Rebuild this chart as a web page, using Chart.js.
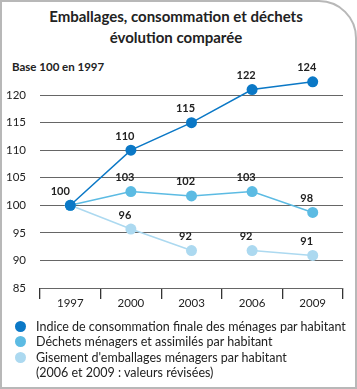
<!DOCTYPE html>
<html><head><meta charset="utf-8">
<script src="https://cdn.jsdelivr.net/npm/chart.js@4.4.1/dist/chart.umd.min.js"></script>
<style>
html,body{margin:0;padding:0;background:#fff;}
#frame{position:absolute;left:0;top:0;width:353px;height:385px;border:2px solid #b8b8b8;border-top-right-radius:38px;}
#t{position:absolute;left:0;top:6px;width:352px;text-align:center;font-family:Lato,"Open Sans",sans-serif;font-weight:bold;font-size:15px;line-height:21px;color:#222;}
#sub{position:absolute;left:12px;top:60px;font-family:Lato,sans-serif;font-weight:bold;font-size:11.5px;color:#222;}
#c{position:absolute;left:0;top:0;}
#leg{position:absolute;left:14px;top:319px;font-family:Lato,"Open Sans",sans-serif;font-size:12.5px;line-height:15.3px;color:#222;}
.row{position:relative;padding-left:22px;}
.dot{position:absolute;left:1px;top:2px;width:11px;height:11px;border-radius:50%;}
</style></head>
<body>
<div id="frame"></div>
<div id="t">Emballages, consommation et déchets<br>évolution comparée</div>
<div id="sub">Base 100 en 1997</div>
<canvas id="c" width="357" height="320"></canvas>
<div id="leg"></div>
<script>
const categories = ["1997","2000","2003","2006","2009"];
const consommation = [100, 110, 115, 121, 122.4];
const consommationLabels = ["100","110","115","122","124"];
const dechets = [100, 102.5, 101.7, 102.5, 98.7];
const dechetsLabels = [null,"103","102","103","98"];
const gisement = [100, 95.7, 91.8, 91.8, 90.9];
const gisementLabels = [null,"96","92","92","91"];
const yTicks = [85,90,95,100,105,110,115,120];
const seriesNames = ["Indice de consommation finale des ménages par habitant","Déchets ménagers et assimilés par habitant","Gisement d'emballages ménagers par habitant","(2006 et 2009 : valeurs révisées)"];
const colors = ["#0b78c6","#5cbbe3","#acd9f0"];

const labelPlugin = {
  id:'vals',
  afterDatasetsDraw(chart){
    const ctx = chart.ctx;
    ctx.save();
    ctx.font = 'bold 11px Lato, sans-serif';
    ctx.fillStyle = '#222';
    ctx.textAlign = 'center';
    ctx.textBaseline = 'middle';
    chart.data.datasets.forEach((ds,i)=>{
      const meta = chart.getDatasetMeta(i);
      meta.data.forEach((pt,j)=>{
        const t = ds.valueLabels[j];
        if(!t) return;
        const dx = j===0 ? -10 : -6;
        ctx.fillText(t, pt.x+dx, pt.y-14);
      });
    });
    ctx.restore();
  }
};

const chart = new Chart(document.getElementById('c'),{
  type:'line',
  data:{
    labels:categories,
    datasets:[
      {label:seriesNames[0],data:consommation,valueLabels:consommationLabels,borderColor:colors[0],backgroundColor:colors[0],pointBackgroundColor:colors[0],borderWidth:1.5,pointRadius:5.5,pointBorderWidth:0,order:0},
      {label:seriesNames[1],data:dechets,valueLabels:dechetsLabels,borderColor:colors[1],backgroundColor:colors[1],pointBackgroundColor:colors[1],borderWidth:1.5,pointRadius:5.5,pointBorderWidth:0,order:1},
      {label:seriesNames[2],data:gisement,valueLabels:gisementLabels,borderColor:colors[2],backgroundColor:colors[2],pointBackgroundColor:colors[2],borderWidth:1.5,pointRadius:5.5,pointBorderWidth:0,order:2,
       segment:{borderColor:c=> c.p0DataIndex===2 ? 'rgba(0,0,0,0)' : colors[2]}}
    ]
  },
  options:{
    responsive:false,animation:false,
    layout:{padding:{left:0,right:14,top:67.5,bottom:0}},
    plugins:{legend:{display:false},title:{display:false},tooltip:{enabled:false}},
    scales:{
      x:{
        offset:true,
        border:{display:false},
        grid:{drawOnChartArea:false,drawTicks:true,tickLength:11,color:'#333',lineWidth:1.3,offset:true},
        ticks:{color:'#222',font:{size:11.5,family:'Lato, sans-serif'},padding:-3},
        afterFit(s){s.height=32;}
      },
      y:{
        min:85,max:125,
        border:{display:false},
        afterBuildTicks(s){s.ticks = yTicks.map(v=>({value:v}));},
        grid:{drawTicks:false,color:'#666',lineWidth:1,borderDash:[1,2]},
        ticks:{color:'#222',font:{size:11.5,family:'Lato, sans-serif'},padding:14},
        afterFit(s){s.width=40;}
      }
    }
  },
  plugins:[labelPlugin]
});

const leg = document.getElementById('leg');
seriesNames.forEach((n,i)=>{
  const r = document.createElement('div');
  r.className='row';
  if(i<3){const d=document.createElement('span');d.className='dot';d.style.background=colors[i];r.appendChild(d);}
  r.appendChild(document.createTextNode(n));
  leg.appendChild(r);
});
</script>
</body></html>
